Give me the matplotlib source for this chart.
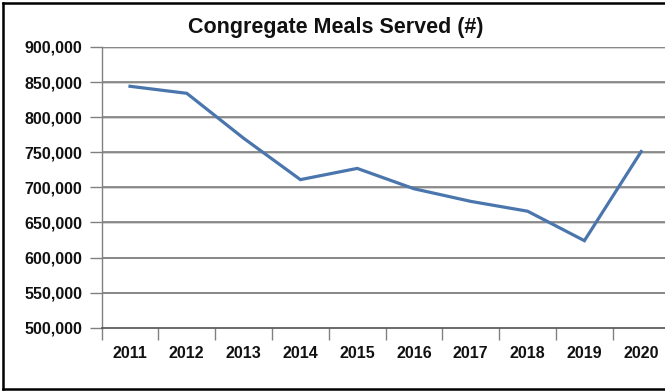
import matplotlib
matplotlib.use("Agg")
import matplotlib.pyplot as plt
from matplotlib.lines import Line2D
from matplotlib.ticker import FuncFormatter

years = ["2011", "2012", "2013", "2014", "2015", "2016", "2017", "2018", "2019", "2020"]
meals_served = [844000, 834000, 770000, 711000, 727000, 698000, 680000, 666000, 624000, 751000]
y_ticks = [500000, 550000, 600000, 650000, 700000, 750000, 800000, 850000, 900000]

plt.rcParams["font.family"] = ["Liberation Sans", "DejaVu Sans"]

fig = plt.figure(figsize=(6.65, 3.91), dpi=100)
fig.patch.set_facecolor("white")

W, H = 665.0, 391.0
left_px, right_px, top_px, bottom_px = 101.6, 669.6, 47.0, 327.7
ax = fig.add_axes([left_px / W, 1 - bottom_px / H,
                   (right_px - left_px) / W, (bottom_px - top_px) / H])

x = list(range(len(years)))
ax.plot(x, meals_served, color="#4a76ad", lw=2.3, solid_joinstyle="miter", zorder=3)

ax.set_xlim(-0.5, len(years) - 0.5)
ax.set_ylim(y_ticks[0], y_ticks[-1])

# horizontal gridlines with a soft shadow underneath
for v in y_ticks[1:]:
    ax.plot([0, 1], [v - 800, v - 800], color="#c8c8c8", lw=1.1,
            transform=ax.get_yaxis_transform(), zorder=1)
    ax.axhline(v, color="#737373", lw=1.1, zorder=2)

ax.set_yticks(y_ticks)
ax.yaxis.set_major_formatter(FuncFormatter(lambda v, p: f"{int(v):,}"))
ax.tick_params(axis="y", length=8.6, width=1.0, color="#808080", pad=5.5,
               labelsize=11.5, labelcolor="#111111")

# year labels at category centres, tick marks on category boundaries
ax.set_xticks(x)
ax.set_xticklabels(years)
ax.set_xticks([i - 0.5 for i in range(len(years) + 1)], minor=True)
ax.tick_params(axis="x", which="major", length=0, pad=13,
               labelsize=11.5, labelcolor="#111111")
ax.tick_params(axis="x", which="minor", length=8.6, width=1.0, color="#808080")

for lbl in ax.get_xticklabels() + ax.get_yticklabels():
    lbl.set_fontweight("bold")

for side in ("top", "right"):
    ax.spines[side].set_visible(False)
ax.spines["left"].set_color("#808080")
ax.spines["left"].set_linewidth(1.0)
ax.spines["bottom"].set_color("#505050")
ax.spines["bottom"].set_linewidth(1.2)

fig.text(336 / W, 1 - 27 / H, "Congregate Meals Served (#)", ha="center", va="center",
         fontsize=15.5, fontweight="bold", color="#111111")

# outer frame (left, top, bottom)
frame_kw = dict(color="black", lw=1.8, transform=fig.transFigure)
fig.add_artist(Line2D([3 / W, 3 / W], [1 - 3 / H, 1 - 389 / H], **frame_kw))
fig.add_artist(Line2D([3 / W, 1.0], [1 - 3 / H, 1 - 3 / H], **frame_kw))
fig.add_artist(Line2D([3 / W, 1.0], [1 - 389 / H, 1 - 389 / H], **frame_kw))

fig.savefig("out.png", dpi=100)
